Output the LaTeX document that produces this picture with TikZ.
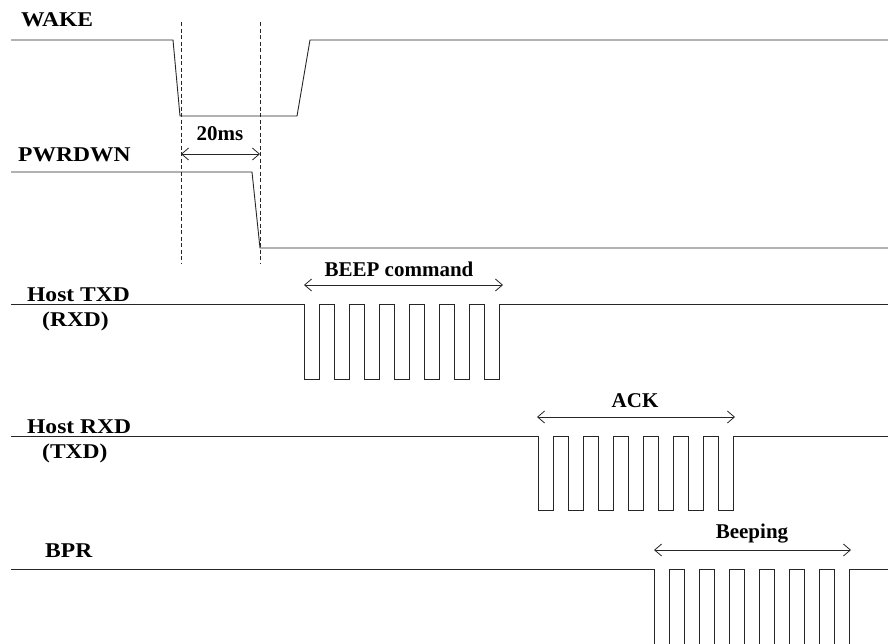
\documentclass[tikz,border=0pt]{standalone}
\usepackage{fontspec}
\setmainfont{Liberation Serif}
\newfontfamily\widelbl[FakeStretch=1.12]{Liberation Serif}
\usetikzlibrary{arrows.meta}
\begin{document}
\begin{tikzpicture}[x=1pt,y=-1pt,
  sig/.style={line width=0.9pt, black!85},
  lbl/.style={font=\widelbl\fontsize{21}{24}\selectfont\bfseries, inner sep=0pt, anchor=base west},
  tlbl/.style={font=\fontsize{21}{24}\selectfont\bfseries, inner sep=0pt, anchor=base},
  dimarrow/.style={line width=0.8pt, black!85, {Straight Barb[length=7pt,width=12pt]}-{Straight Barb[length=7pt,width=12pt]}},
  guide/.style={line width=0.8pt, black!85, dash pattern=on 4pt off 2.5pt}]
\useasboundingbox (0,0) rectangle (888,643);
\clip (0,0) rectangle (888,643);
% labels
\node[lbl] (wake) at (21,26) {WAKE};
\node[lbl] (pwrdwn) at (18,161) {PWRDWN};
\node[lbl] (htxd) at (27,301) {Host TXD};
\node[lbl] (rxd) at (42,326) {(RXD)};
\node[lbl] (hrxd) at (27,433) {Host RXD};
\node[lbl] (txd) at (42,458) {(TXD)};
\node[lbl] (bpr) at (45,557) {BPR};
% WAKE
\draw[sig] (11,40) -- (173,40) -- (180,116) -- (297,116) -- (310,40) -- (888,40);
% PWRDWN
\draw[sig] (11,172) -- (252,172) -- (260,248) -- (888,248);
% guides
\coordinate (g1t) at (181,22); \coordinate (g1b) at (181,264);
\coordinate (g2t) at (260,22); \coordinate (g2b) at (260,264);
\draw[guide] (g1t) -- (g1b);
\draw[guide] (g2t) -- (g2b);
\coordinate (d1) at (181,154); \coordinate (d2) at (260,154);
\draw[dimarrow] (d1) -- (d2);
\node[tlbl] (t20) at (220,140) {20ms};
% Host TXD
\draw[sig] (11,304) \foreach \i in {0,...,6}{ -- ({304+30*\i},304) -- ({304+30*\i},379) -- ({319+30*\i},379) -- ({319+30*\i},304)} -- (888,304);
\coordinate (b1) at (304,285); \coordinate (b2) at (503,285);
\draw[dimarrow] (b1) -- (b2);
\node[tlbl] (beep) at (399,276) {BEEP command};
% Host RXD
\draw[sig] (11,436) \foreach \i in {0,...,6}{ -- ({538+30*\i},436) -- ({538+30*\i},510) -- ({553+30*\i},510) -- ({553+30*\i},436)} -- (888,436);
\coordinate (a1) at (537,417); \coordinate (a2) at (735,417);
\draw[dimarrow] (a1) -- (a2);
\node[tlbl] (ack) at (635,407) {ACK};
% BPR
\draw[sig] (11,569) \foreach \i in {0,...,6}{ -- ({654+30*\i},569) -- ({654+30*\i},660) -- ({669+30*\i},660) -- ({669+30*\i},569)} -- (888,569);
\coordinate (p1) at (654,550); \coordinate (p2) at (851,550);
\draw[dimarrow] (p1) -- (p2);
\node[tlbl] (beeping) at (752,538) {Beeping};
\end{tikzpicture}
\end{document}
